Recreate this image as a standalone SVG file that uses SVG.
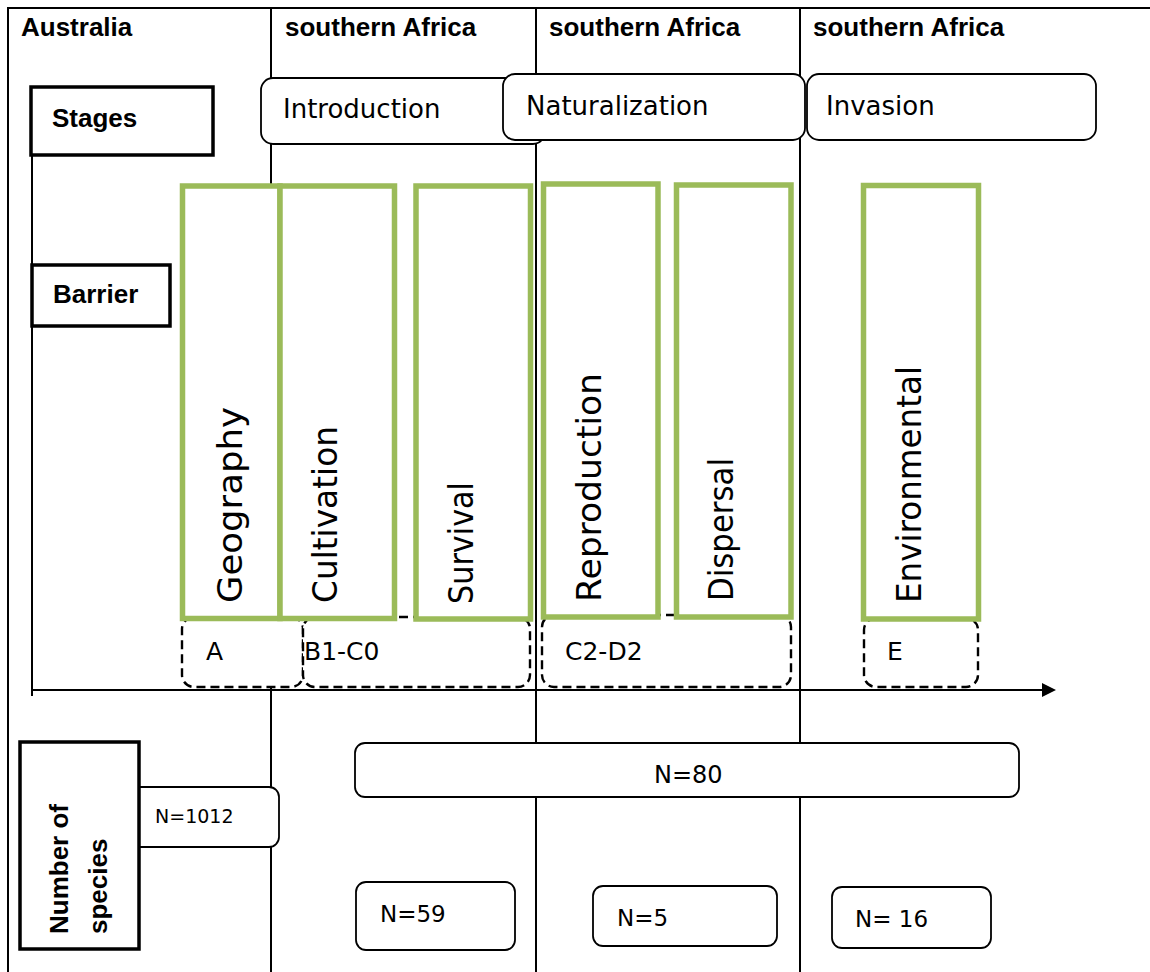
<svg xmlns="http://www.w3.org/2000/svg" width="1150" height="972" viewBox="0 0 1150 972">
<style>
.ln{stroke:#000;stroke-width:2;fill:none}
.bold{font-family:"Liberation Sans",Arial,sans-serif;font-weight:bold;font-size:26px;fill:#000}
.reg{font-family:"DejaVu Sans",sans-serif;font-size:26px;fill:#000}
.stage{fill:#fff;stroke:#000;stroke-width:1.8}
.thick{fill:#fff;stroke:#000;stroke-width:3.5}
.green{fill:#fff;stroke:#9BBB59;stroke-width:5.5}
.dash{fill:#fff;stroke:#000;stroke-width:2.4;stroke-dasharray:9 5}
.vt{font-family:"DejaVu Sans",sans-serif;font-size:34px;fill:#000}
.sm{font-family:"DejaVu Sans",sans-serif;font-size:25px;fill:#000}
.nb{fill:#fff;stroke:#000;stroke-width:1.8}
.nt{font-family:"DejaVu Sans",sans-serif;font-size:23px;fill:#000}
</style>
<defs>
<marker id="arrow" markerUnits="userSpaceOnUse" markerWidth="14" markerHeight="14" refX="0" refY="7" orient="auto">
<path d="M0,0 L14,7 L0,14 z" fill="#000"/>
</marker>
</defs>
<rect width="1150" height="972" fill="#fff"/>
<g id="frame">
<line class="ln" x1="7" y1="8" x2="1150" y2="8"/>
<line class="ln" x1="8" y1="7" x2="8" y2="972"/>
<line class="ln" x1="271" y1="8" x2="271" y2="972"/>
<line class="ln" x1="536" y1="8" x2="536" y2="972"/>
<line class="ln" x1="800" y1="8" x2="800" y2="972"/>
<line class="ln" x1="32" y1="155" x2="32" y2="696"/>
</g>
<g id="connectors">
<line class="ln" x1="32" y1="690" x2="1042" y2="690" marker-end="url(#arrow)"/>
</g>
<g id="hdr-australia"><text class="bold" x="21" y="36">Australia</text></g>
<g id="hdr-safrica-1"><text class="bold" x="285" y="36">southern Africa</text></g>
<g id="hdr-safrica-2"><text class="bold" x="549" y="36">southern Africa</text></g>
<g id="hdr-safrica-3"><text class="bold" x="813" y="36">southern Africa</text></g>
<g id="stages"><rect class="thick" x="31" y="87" width="182" height="68"/><text class="bold" x="52" y="127">Stages</text></g>
<g id="barrier"><rect class="thick" x="32" y="265" width="138" height="61"/><text class="bold" x="53" y="303">Barrier</text></g>
<g id="introduction"><rect class="stage" x="261" y="78" width="284" height="66" rx="12"/><text class="reg" x="283" y="118">Introduction</text></g>
<g id="naturalization"><rect class="stage" x="503" y="74" width="302" height="66" rx="12"/><text class="reg" x="526" y="115">Naturalization</text></g>
<g id="invasion"><rect class="stage" x="807" y="74" width="289" height="66" rx="12"/><text class="reg" x="826" y="115">Invasion</text></g>
<g id="cat-A"><rect class="dash" x="182" y="617" width="121" height="70" rx="12"/><text class="sm" x="206" y="660">A</text></g>
<g id="cat-B1C0"><rect class="dash" x="303" y="617" width="227" height="70" rx="12"/><text class="sm" x="304" y="660">B1-C0</text></g>
<g id="cat-C2D2"><rect class="dash" x="542" y="615" width="249" height="72" rx="12"/><text class="sm" x="565" y="660">C2-D2</text></g>
<g id="cat-E"><rect class="dash" x="864" y="618" width="114" height="69" rx="12"/><text class="sm" x="887" y="660">E</text></g>
<g id="geography"><rect class="green" x="182.5" y="186" width="97.5" height="432.5"/><text class="vt" transform="translate(241.5,603) rotate(-90)" textLength="196" lengthAdjust="spacingAndGlyphs">Geography</text></g>
<g id="cultivation"><rect class="green" x="280" y="186" width="114.5" height="432.5"/><text class="vt" transform="translate(336.5,603) rotate(-90)" textLength="177" lengthAdjust="spacingAndGlyphs">Cultivation</text></g>
<g id="survival"><rect class="green" x="416" y="186" width="114.5" height="433"/><text class="vt" transform="translate(473,604) rotate(-90)" textLength="122" lengthAdjust="spacingAndGlyphs">Survival</text></g>
<g id="reproduction"><rect class="green" x="543.5" y="184" width="114.5" height="433"/><text class="vt" transform="translate(600.5,602) rotate(-90)" textLength="229" lengthAdjust="spacingAndGlyphs">Reproduction</text></g>
<g id="dispersal"><rect class="green" x="676.5" y="185" width="114.5" height="432"/><text class="vt" transform="translate(733,601) rotate(-90)" textLength="143" lengthAdjust="spacingAndGlyphs">Dispersal</text></g>
<g id="environmental"><rect class="green" x="863.5" y="185.5" width="115" height="433.5"/><text class="vt" transform="translate(920.5,603) rotate(-90)" textLength="237" lengthAdjust="spacingAndGlyphs">Environmental</text></g>
<g id="n1012"><rect class="nb" x="120" y="787" width="159" height="60" rx="10"/><text class="nt" style="font-size:19px" x="155" y="823">N=1012</text></g>
<g id="number-of-species"><rect class="thick" x="20" y="742" width="119" height="207"/><text class="bold" transform="translate(68,934) rotate(-90)">Number of</text><text class="bold" transform="translate(107,934) rotate(-90)">species</text></g>
<g id="n80"><rect class="nb" x="355" y="743" width="664" height="54" rx="10"/><text class="nt" style="font-size:24px" x="654" y="783">N=80</text></g>
<g id="n59"><rect class="nb" x="356" y="882" width="159" height="68" rx="10"/><text class="nt" x="380" y="922">N=59</text></g>
<g id="n5"><rect class="nb" x="593" y="886" width="184" height="60" rx="10"/><text class="nt" x="617" y="926">N=5</text></g>
<g id="n16"><rect class="nb" x="832" y="887" width="159" height="61" rx="10"/><text class="nt" x="855" y="927">N= 16</text></g>
</svg>
